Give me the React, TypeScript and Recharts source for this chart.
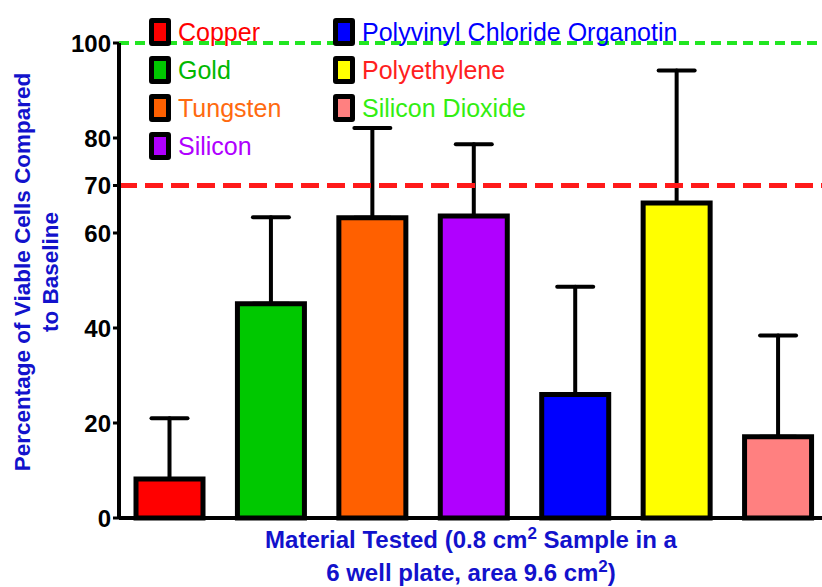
import React from 'react';
import { BarChart, Bar, Cell, ErrorBar, XAxis, YAxis, ReferenceLine } from 'recharts';

const materials = [
  'Copper',
  'Gold',
  'Tungsten',
  'Silicon',
  'Polyvinyl Chloride Organotin',
  'Polyethylene',
  'Silicon Dioxide',
];
const viable = [8.2, 45.1, 63.2, 63.6, 26.0, 66.3, 17.1];
const upperError = [12.8, 18.2, 18.9, 15.1, 22.7, 27.9, 21.3];
const barColors = ['#ff0000', '#00c800', '#ff6000', '#b000ff', '#0000ff', '#ffff00', '#ff8080'];
const labelColors = ['#ff0000', '#00b800', '#ff6a10', '#b000ff', '#0000ff', '#ff2020', '#33ee11'];
const yTicks = [0, 20, 40, 60, 70, 80, 100];

const FONT = '"Liberation Sans", Arial, sans-serif';
const TITLE_BLUE = '#1212cc';

const data = materials.map((m, i) => ({
  name: m,
  value: viable[i],
  err: [0, upperError[i]],
}));

function LegendItem({ i }: { i: number }) {
  return (
    <div style={{ display: 'flex', alignItems: 'center', height: 38 }}>
      <div
        style={{
          width: 12,
          height: 18,
          border: '5px solid #000',
          borderRadius: 3,
          background: barColors[i],
          marginRight: 7,
        }}
      />
      <span style={{ color: labelColors[i], fontSize: 25, fontFamily: FONT, whiteSpace: 'nowrap' }}>
        {materials[i]}
      </span>
    </div>
  );
}

export default function App() {
  return (
    <div
      style={{
        position: 'absolute',
        left: 0,
        top: 0,
        width: 822,
        height: 587,
        overflow: 'hidden',
        background: '#fff',
      }}
    >
      <BarChart
        width={832}
        height={587}
        data={data}
        margin={{ top: 43, right: 3, bottom: 68, left: 0 }}
      >
        <XAxis
          dataKey="name"
          tick={false}
          tickLine={false}
          height={1}
          axisLine={{ stroke: '#000', strokeWidth: 4 }}
        />
        <YAxis
          width={119}
          domain={[0, 100]}
          ticks={yTicks}
          interval={0}
          tickSize={6}
          tickMargin={2}
          axisLine={{ stroke: '#000', strokeWidth: 4 }}
          tickLine={{ stroke: '#000', strokeWidth: 3 }}
          tick={{ fill: '#000', fontSize: 24, fontWeight: 'bold', fontFamily: FONT }}
        />
        <Bar dataKey="value" barSize={67} stroke="#000" strokeWidth={5} isAnimationActive={false}>
          {data.map((d, i) => (
            <Cell key={d.name} fill={barColors[i]} />
          ))}
          <ErrorBar dataKey="err" width={18} strokeWidth={4} stroke="#000" strokeLinecap="round" />
        </Bar>
        <ReferenceLine y={100} stroke="#22e622" strokeWidth={4} strokeDasharray="10 6" />
        <ReferenceLine y={70} stroke="#ff1a1a" strokeWidth={5} strokeDasharray="18 8" />
      </BarChart>

      <div style={{ position: 'absolute', left: 149, top: 13 }}>
        {[0, 1, 2, 3].map((i) => (
          <LegendItem key={i} i={i} />
        ))}
      </div>
      <div style={{ position: 'absolute', left: 333, top: 13 }}>
        {[4, 5, 6].map((i) => (
          <LegendItem key={i} i={i} />
        ))}
      </div>

      <div
        style={{
          position: 'absolute',
          left: 39 - 240,
          top: 272 - 30,
          width: 480,
          height: 60,
          transform: 'rotate(-90deg)',
          textAlign: 'center',
          color: TITLE_BLUE,
          fontFamily: FONT,
          fontWeight: 'bold',
          fontSize: 22.5,
          lineHeight: '28px',
        }}
      >
        Percentage of Viable Cells Compared
        <br />
        to Baseline
      </div>

      <div
        style={{
          position: 'absolute',
          left: 171,
          top: 523,
          width: 600,
          textAlign: 'center',
          color: TITLE_BLUE,
          fontFamily: FONT,
          fontWeight: 'bold',
          fontSize: 24,
          lineHeight: '33px',
        }}
      >
        Material Tested (0.8 cm<sup style={{ fontSize: 17, lineHeight: 0 }}>2</sup> Sample in a
        <br />
        6 well plate, area 9.6 cm<sup style={{ fontSize: 17, lineHeight: 0 }}>2</sup>)
      </div>
    </div>
  );
}
